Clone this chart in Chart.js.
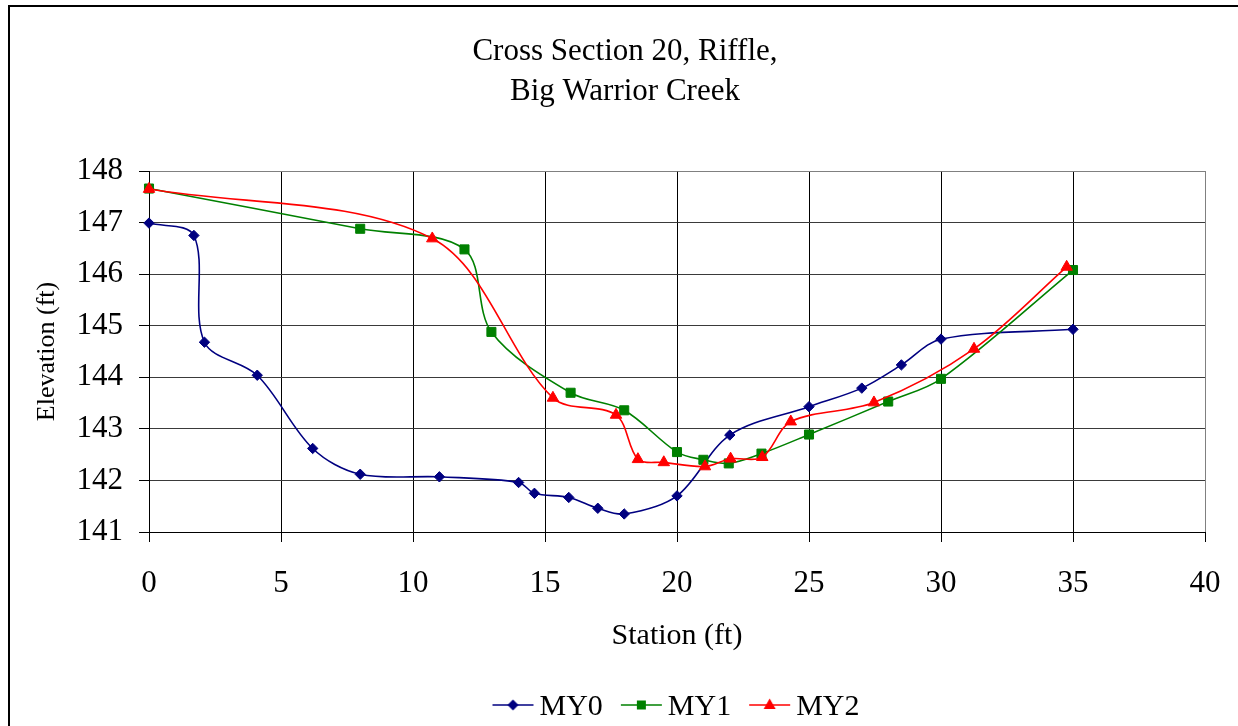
<!DOCTYPE html>
<html><head><meta charset="utf-8">
<script src="https://cdn.jsdelivr.net/npm/chart.js@4.4.1/dist/chart.umd.min.js"></script>
<style>html,body{margin:0;padding:0;background:#fff;overflow:hidden}canvas{display:block}</style>
</head><body>
<canvas id="c" width="1238" height="726"></canvas>
<script>
// ---- data ----
const titleLines = ['Cross Section 20, Riffle,', 'Big Warrior Creek'];
const xAxisTitle = 'Station (ft)';
const yAxisTitle = 'Elevation (ft)';
const seriesNames = ['MY0', 'MY1', 'MY2'];
const xTicks = [0, 5, 10, 15, 20, 25, 30, 35, 40];
const yTicks = [141, 142, 143, 144, 145, 146, 147, 148];

const my0Station = [0, 1.7, 2.1, 4.1, 6.2, 8.0, 11.0, 14.0, 14.6, 15.9, 17.0, 18.0, 20.0, 22.0, 25.0, 27.0, 28.5, 30.0, 35.0];
const my0Elev    = [146.99, 146.75, 144.68, 144.04, 142.62, 142.12, 142.07, 141.96, 141.75, 141.67, 141.46, 141.35, 141.70, 142.88, 143.43, 143.79, 144.24, 144.74, 144.93];

const my1Station = [0, 8.0, 11.95, 12.97, 15.97, 18.0, 20.0, 21.0, 21.96, 23.2, 25.0, 28.0, 30.0, 35.0];
const my1Elev    = [147.66, 146.88, 146.48, 144.88, 143.70, 143.36, 142.55, 142.40, 142.33, 142.52, 142.89, 143.53, 143.97, 146.08];

const my2Station = [0, 10.73, 15.3, 17.69, 18.52, 19.5, 21.06, 22.03, 23.23, 24.31, 27.46, 31.25, 34.76];
const my2Elev    = [147.65, 146.69, 143.60, 143.27, 142.41, 142.35, 142.27, 142.42, 142.45, 143.14, 143.51, 144.55, 146.14];

// ---- build ----
const FONT = 'Liberation Serif, "Times New Roman", serif';
const colors = ['#000080', '#008000', '#FF0000'];
const styles = ['rectRot', 'rect', 'triangle'];
const radii = [5.2, 6.4, 6.6];

function toPoints(xs, ys) { return xs.map((x, i) => ({x: x, y: ys[i]})); }
const seriesData = [toPoints(my0Station, my0Elev), toPoints(my1Station, my1Elev), toPoints(my2Station, my2Elev)];

function makeIcon(color, style) {
  const c = document.createElement('canvas');
  c.width = 60; c.height = 30;
  const g = c.getContext('2d');
  const ly = 13, cx = 33.5;
  g.strokeStyle = color; g.lineWidth = 1.6;
  g.beginPath(); g.moveTo(13, ly); g.lineTo(54, ly); g.stroke();
  g.fillStyle = color;
  g.beginPath();
  if (style === 'rectRot') {
    g.moveTo(cx, ly - 5.5); g.lineTo(cx + 5.5, ly); g.lineTo(cx, ly + 5.5); g.lineTo(cx - 5.5, ly);
  } else if (style === 'rect') {
    g.rect(cx - 4.5, ly - 4.5, 9, 9);
  } else {
    g.moveTo(cx, ly - 6.5); g.lineTo(cx + 6, ly + 4); g.lineTo(cx - 6, ly + 4);
  }
  g.closePath(); g.fill();
  return c;
}
const icons = colors.map((c, i) => makeIcon(c, styles[i]));

const datasets = seriesNames.map((name, i) => ({
  label: name,
  data: seriesData[i],
  showLine: true,
  borderColor: colors[i],
  backgroundColor: colors[i],
  borderWidth: 1.6,
  pointStyle: styles[i],
  pointRadius: radii[i],
  pointBorderWidth: 1,
  pointBorderColor: colors[i],
  pointBackgroundColor: colors[i],
  tension: 0.33,
  clip: false,
  order: 3 - i
}));

const framePlugin = {
  id: 'frame',
  afterDraw(chart) {
    const ctx = chart.ctx;
    ctx.save();
    ctx.strokeStyle = '#000';
    ctx.lineWidth = 2;
    ctx.strokeRect(9, 6, 1400, 900);
    ctx.restore();
  }
};

new Chart(document.getElementById('c'), {
  type: 'scatter',
  data: { datasets: datasets },
  plugins: [framePlugin],
  options: {
    responsive: false,
    animation: false,
    devicePixelRatio: 1,
    layout: { padding: { left: 12, right: 0, top: 0, bottom: 0 } },
    plugins: {
      tooltip: { enabled: false },
      title: {
        display: true,
        text: titleLines,
        color: '#000',
        font: { family: FONT, size: 31, weight: 'normal', lineHeight: 40 / 31 },
        padding: { top: 32, bottom: 59 }
      },
      legend: {
        display: true,
        position: 'bottom',
        fullSize: false,
        maxHeight: 54,
        labels: {
          color: '#000',
          font: { family: FONT, size: 30 },
          padding: 20,
          usePointStyle: true,
          pointStyleWidth: 30,
          generateLabels: () => seriesNames.map((n, i) => ({
            text: n, datasetIndex: i, pointStyle: icons[i], fontColor: '#000',
            fillStyle: colors[i], strokeStyle: colors[i], lineWidth: 0, hidden: false
          }))
        }
      }
    },
    scales: {
      x: {
        type: 'linear',
        min: xTicks[0], max: xTicks[xTicks.length - 1],
        afterFit: s => { s.height = 140; s.paddingLeft = 0; s.paddingRight = 0; },
        ticks: {
          stepSize: xTicks[1] - xTicks[0],
          color: '#000', padding: 23,
          font: { family: FONT, size: 31 },
          maxRotation: 0
        },
        grid: {
          color: ctx => (ctx.tick && ctx.tick.value === xTicks[xTicks.length - 1]) ? '#808080' : '#000',
          tickColor: '#000', tickLength: 10, lineWidth: 1
        },
        border: { display: true, color: '#000', width: 1 },
        title: {
          display: true, text: xAxisTitle, color: '#000',
          font: { family: FONT, size: 30 }, padding: { top: 0, bottom: 18 }
        }
      },
      y: {
        type: 'linear',
        min: yTicks[0], max: yTicks[yTicks.length - 1],
        afterFit: s => { s.width = 137; },
        ticks: {
          stepSize: yTicks[1] - yTicks[0],
          color: '#000', padding: 16,
          font: { family: FONT, size: 31 }
        },
        grid: {
          color: ctx => (ctx.tick && ctx.tick.value === yTicks[yTicks.length - 1]) ? '#808080' : '#3a3a3a',
          tickColor: '#000', tickLength: 10, lineWidth: 1
        },
        border: { display: true, color: '#000', width: 1 },
        title: {
          display: true, text: yAxisTitle, color: '#000',
          font: { family: FONT, size: 26 }, padding: { top: 20, bottom: 0 }
        }
      },
      y2: {
        type: 'linear',
        position: 'right',
        display: true,
        afterFit: s => { s.width = 33; },
        ticks: { display: false },
        grid: { display: false, drawTicks: false },
        border: { display: false }
      }
    }
  }
});
</script>
</body></html>
